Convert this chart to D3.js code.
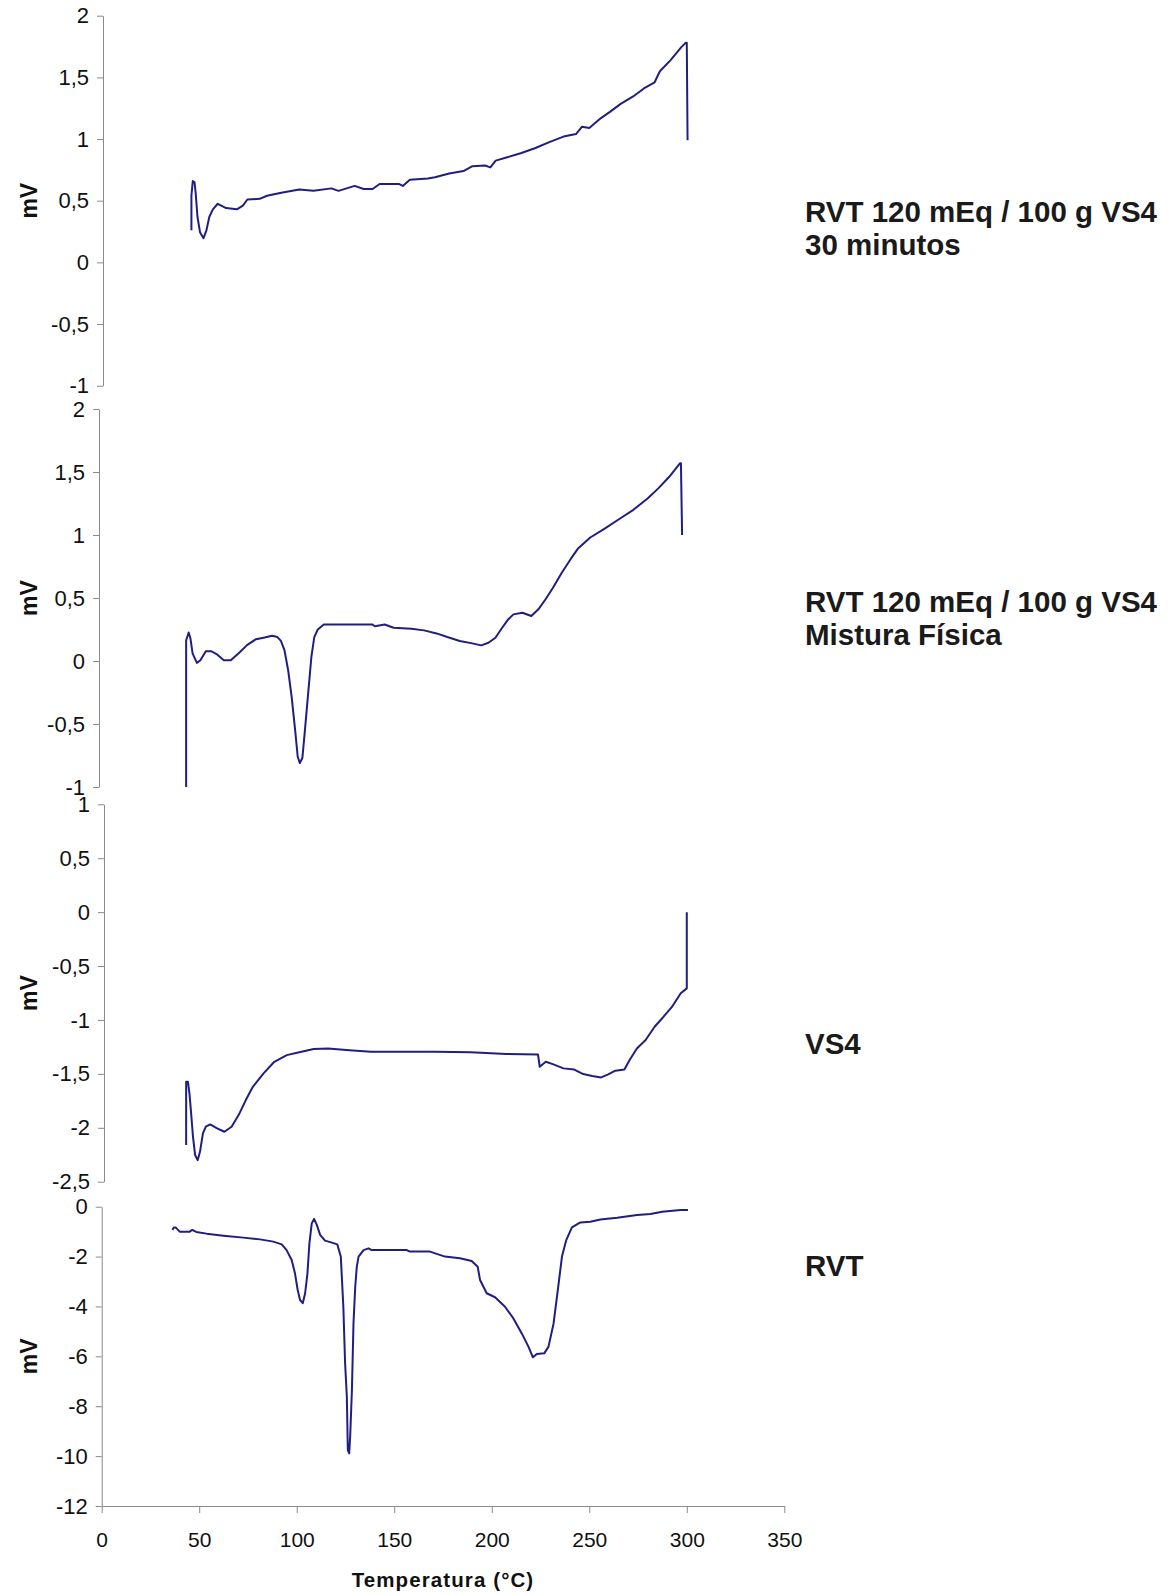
<!DOCTYPE html>
<html>
<head>
<meta charset="utf-8">
<script src="https://cdn.jsdelivr.net/npm/d3@7"></script>
<style>
  html, body { margin: 0; padding: 0; background: #fff; }
  svg { display: block; }
  text { font-family: "Liberation Sans", Arial, sans-serif; }
</style>
</head>
<body>
<svg id="chart" width="1171" height="1595"></svg>
<script>
// ---------- DATA ----------
const xTicks = [0, 50, 100, 150, 200, 250, 300, 350];

const yTicks1 = [-1, -0.5, 0, 0.5, 1, 1.5, 2];
const yTicks2 = [-1, -0.5, 0, 0.5, 1, 1.5, 2];
const yTicks3 = [-2.5, -2, -1.5, -1, -0.5, 0, 0.5, 1];
const yTicks4 = [-12, -10, -8, -6, -4, -2, 0];

const labels1 = ["RVT 120 mEq / 100 g VS4", "30 minutos"];
const labels2 = ["RVT 120 mEq / 100 g VS4", "Mistura Física"];
const labels3 = ["VS4"];
const labels4 = ["RVT"];

// [temperature °C, mV]
const series1 = [
  [46,0.26],[46,0.54],[46.7,0.66],[47.6,0.65],[48.2,0.56],[49.1,0.37],[50.4,0.245],[52.2,0.196],
  [53.7,0.26],[55.2,0.37],[57,0.43],[59.5,0.475],[63.8,0.44],[69.3,0.43],[72.4,0.46],[74.7,0.51],
  [81,0.515],[84.8,0.54],[92.1,0.565],[101.3,0.59],[108.6,0.58],[117.8,0.6],[121.4,0.58],[129.7,0.62],
  [134.3,0.595],[138.9,0.595],[142.5,0.635],[152.6,0.635],[154.4,0.62],[158,0.67],[167.2,0.68],
  [170.9,0.69],[178.2,0.72],[185.5,0.74],[190.1,0.78],[196.5,0.785],[199.3,0.77],[202,0.825],
  [207.5,0.85],[214.8,0.885],[222.1,0.925],[229.5,0.975],[236.8,1.02],[243.2,1.04],[246.3,1.1],
  [250,1.09],[256,1.17],[260.6,1.22],[266.1,1.285],[272.5,1.345],[278,1.41],[283.5,1.46],
  [286.2,1.55],[291.7,1.64],[297.2,1.745],[299.4,1.78],[300,1.78],[300.4,0.99]
];

const series2 = [
  [43.3,-1.0],[43.3,0.165],[44.6,0.226],[45.5,0.18],[46.6,0.06],[48.8,-0.015],[50.6,0.006],
  [53.4,0.078],[56.1,0.078],[58.9,0.055],[62.6,0.006],[66.2,0.006],[70.8,0.07],[74.5,0.126],
  [79.1,0.173],[83.6,0.187],[87.3,0.2],[90.1,0.19],[91.9,0.16],[93.7,0.086],[95.6,-0.073],
  [97.4,-0.285],[99.2,-0.55],[100.5,-0.76],[101.6,-0.81],[102.9,-0.77],[104.2,-0.55],[105.7,-0.285],
  [107.5,0.03],[109,0.19],[110.8,0.25],[113.9,0.29],[120.3,0.29],[138.7,0.29],[140.1,0.276],
  [145.1,0.29],[149.7,0.264],[158.8,0.256],[165.3,0.243],[171.7,0.219],[177.2,0.19],[183.6,0.159],
  [190,0.14],[194.6,0.124],[198.3,0.145],[201.9,0.185],[204.7,0.25],[208.4,0.33],[211.1,0.37],
  [215.7,0.383],[220.3,0.357],[223.9,0.41],[227.6,0.49],[231.3,0.58],[235.9,0.7],[240.5,0.81],
  [244.1,0.89],[250.5,0.98],[257.9,1.05],[265.2,1.125],[272.6,1.2],[279.9,1.29],[285.4,1.37],
  [290.9,1.46],[296.6,1.57],[297,1.57],[297.6,1.0]
];

const series3 = [
  [43.3,-2.16],[43.3,-1.573],[44.2,-1.573],[45,-1.68],[46,-1.898],[46.8,-2.083],[47.9,-2.253],
  [49.2,-2.3],[50.4,-2.223],[51.9,-2.052],[53.4,-1.99],[55.6,-1.969],[59.2,-2.006],[62.9,-2.037],
  [66.6,-1.99],[70.2,-1.882],[73.9,-1.743],[77.5,-1.62],[83,-1.495],[88.5,-1.388],[94.9,-1.326],
  [101.3,-1.3],[108.7,-1.27],[116,-1.265],[127,-1.28],[138,-1.295],[170.9,-1.295],[189.2,-1.3],
  [207.5,-1.316],[223.7,-1.32],[224.6,-1.434],[227.7,-1.388],[231.3,-1.41],[236.8,-1.449],
  [242.3,-1.46],[246.9,-1.502],[251.5,-1.52],[256.1,-1.533],[259.7,-1.505],[263.4,-1.47],
  [268,-1.46],[270.7,-1.372],[274.4,-1.264],[278.9,-1.186],[283.5,-1.063],[288.1,-0.97],
  [292.7,-0.871],[296.9,-0.753],[300,-0.707],[300,0.0]
];

const series4 = [
  [36.2,-0.93],[37.1,-0.83],[37.9,-0.83],[40,-1.0],[45.1,-1.0],[46.4,-0.93],[48.5,-1.01],
  [53.8,-1.08],[62.4,-1.16],[72.6,-1.24],[81.2,-1.31],[88,-1.4],[92.3,-1.51],[94.8,-1.74],
  [97.4,-2.14],[99.1,-2.67],[100.5,-3.34],[101.7,-3.74],[103.1,-3.87],[104.3,-3.47],[105.5,-2.67],
  [106.5,-1.47],[107.7,-0.67],[108.9,-0.49],[110.3,-0.73],[112,-1.13],[114.5,-1.36],[118,-1.44],
  [120.8,-1.51],[122.6,-2.0],[123.9,-4.01],[124.8,-6.28],[125.7,-7.62],[126.2,-9.76],[126.9,-9.89],
  [127.4,-9.22],[128.3,-7.35],[129.1,-4.68],[130,-3.21],[130.8,-2.41],[131.7,-2.0],[134.3,-1.74],
  [136.8,-1.67],[138.5,-1.74],[156.4,-1.74],[158,-1.8],[168.3,-1.8],[176,-2.0],[183.7,-2.07],
  [189.7,-2.18],[192.8,-2.41],[194,-2.94],[197.4,-3.47],[201.7,-3.63],[206.8,-4.01],[211.1,-4.48],
  [215.4,-5.08],[218.8,-5.61],[221.1,-6.04],[223.1,-5.91],[226.9,-5.88],[229.1,-5.61],[231.7,-4.68],
  [234.3,-3.07],[236,-2.0],[238.2,-1.34],[241.1,-0.83],[245.4,-0.63],[250.5,-0.6],[255.7,-0.51],
  [264.3,-0.44],[274.5,-0.33],[281.4,-0.29],[287.4,-0.2],[296.8,-0.13],[300.6,-0.13]
];

// ---------- LAYOUT ----------
const svg = d3.select("#chart");
const lineColor = "#1f1f80";
const axisColor = "#8a8a8a";
const textColor = "#111";

const x = d3.scaleLinear().domain([0, 350]).range([101.7, 784.3]);

const panels = [
  { data: series1, ticks: yTicks1, domain: [-1, 2],   range: [385.7, 15.7],   axisX: 103,   labels: labels1, labelY: 222 },
  { data: series2, ticks: yTicks2, domain: [-1, 2],   range: [787, 409],      axisX: 99,    labels: labels2, labelY: 612 },
  { data: series3, ticks: yTicks3, domain: [-2.5, 1], range: [1181.7, 804.3], axisX: 104,   labels: labels3, labelY: 1054 },
  { data: series4, ticks: yTicks4, domain: [-12, 0],  range: [1506, 1206.7],  axisX: 101.7, labels: labels4, labelY: 1276 }
];

const fmt = v => String(v).replace(".", ",");

panels.forEach((p, i) => {
  const y = d3.scaleLinear().domain(p.domain).range(p.range);

  const ax = svg.append("g")
    .attr("transform", `translate(${p.axisX},0)`)
    .call(d3.axisLeft(y).tickValues(p.ticks).tickFormat(fmt).tickSize(6).tickPadding(8).tickSizeOuter(0));
  ax.select(".domain").attr("stroke", axisColor);
  ax.selectAll(".tick line").attr("stroke", axisColor);
  ax.selectAll(".tick text")
    .attr("fill", textColor)
    .style("font-size", "22px")
    .style("font-family", "'Liberation Sans', Arial, sans-serif");

  // y title
  const cy = (p.range[0] + p.range[1]) / 2;
  svg.append("text")
    .attr("transform", `translate(37,${cy}) rotate(-90)`)
    .attr("text-anchor", "middle")
    .attr("fill", textColor)
    .style("font-size", "23px")
    .style("font-weight", "bold")
    .text("mV");

  // curve
  const line = d3.line().x(d => x(d[0])).y(d => y(d[1]));
  svg.append("path")
    .datum(p.data)
    .attr("d", line)
    .attr("fill", "none")
    .attr("stroke", lineColor)
    .attr("stroke-width", 2)
    .attr("stroke-linejoin", "round");

  // right-side label
  p.labels.forEach((t, j) => {
    svg.append("text")
      .attr("x", 805)
      .attr("y", p.labelY + j * 32.5)
      .attr("fill", "#1a1a1a")
      .style("font-size", "29.5px")
      .style("font-weight", "bold")
      .text(t);
  });

  if (i === panels.length - 1) {
    const xa = svg.append("g")
      .attr("transform", `translate(0,${p.range[0]})`)
      .call(d3.axisBottom(x).tickValues(xTicks).tickFormat(d => String(d)).tickSize(7).tickPadding(19).tickSizeOuter(0));
    xa.select(".domain").attr("stroke", axisColor);
    xa.selectAll(".tick line").attr("stroke", axisColor);
    xa.selectAll(".tick text")
      .attr("fill", textColor)
      .style("font-size", "21px")
      .style("font-family", "'Liberation Sans', Arial, sans-serif");

    svg.append("text")
      .attr("x", 443)
      .attr("y", 1587)
      .attr("text-anchor", "middle")
      .attr("fill", textColor)
      .style("font-size", "20.5px")
      .style("font-weight", "bold")
      .style("letter-spacing", "1.1px")
      .text("Temperatura (°C)");
  }
});
</script>
</body>
</html>
